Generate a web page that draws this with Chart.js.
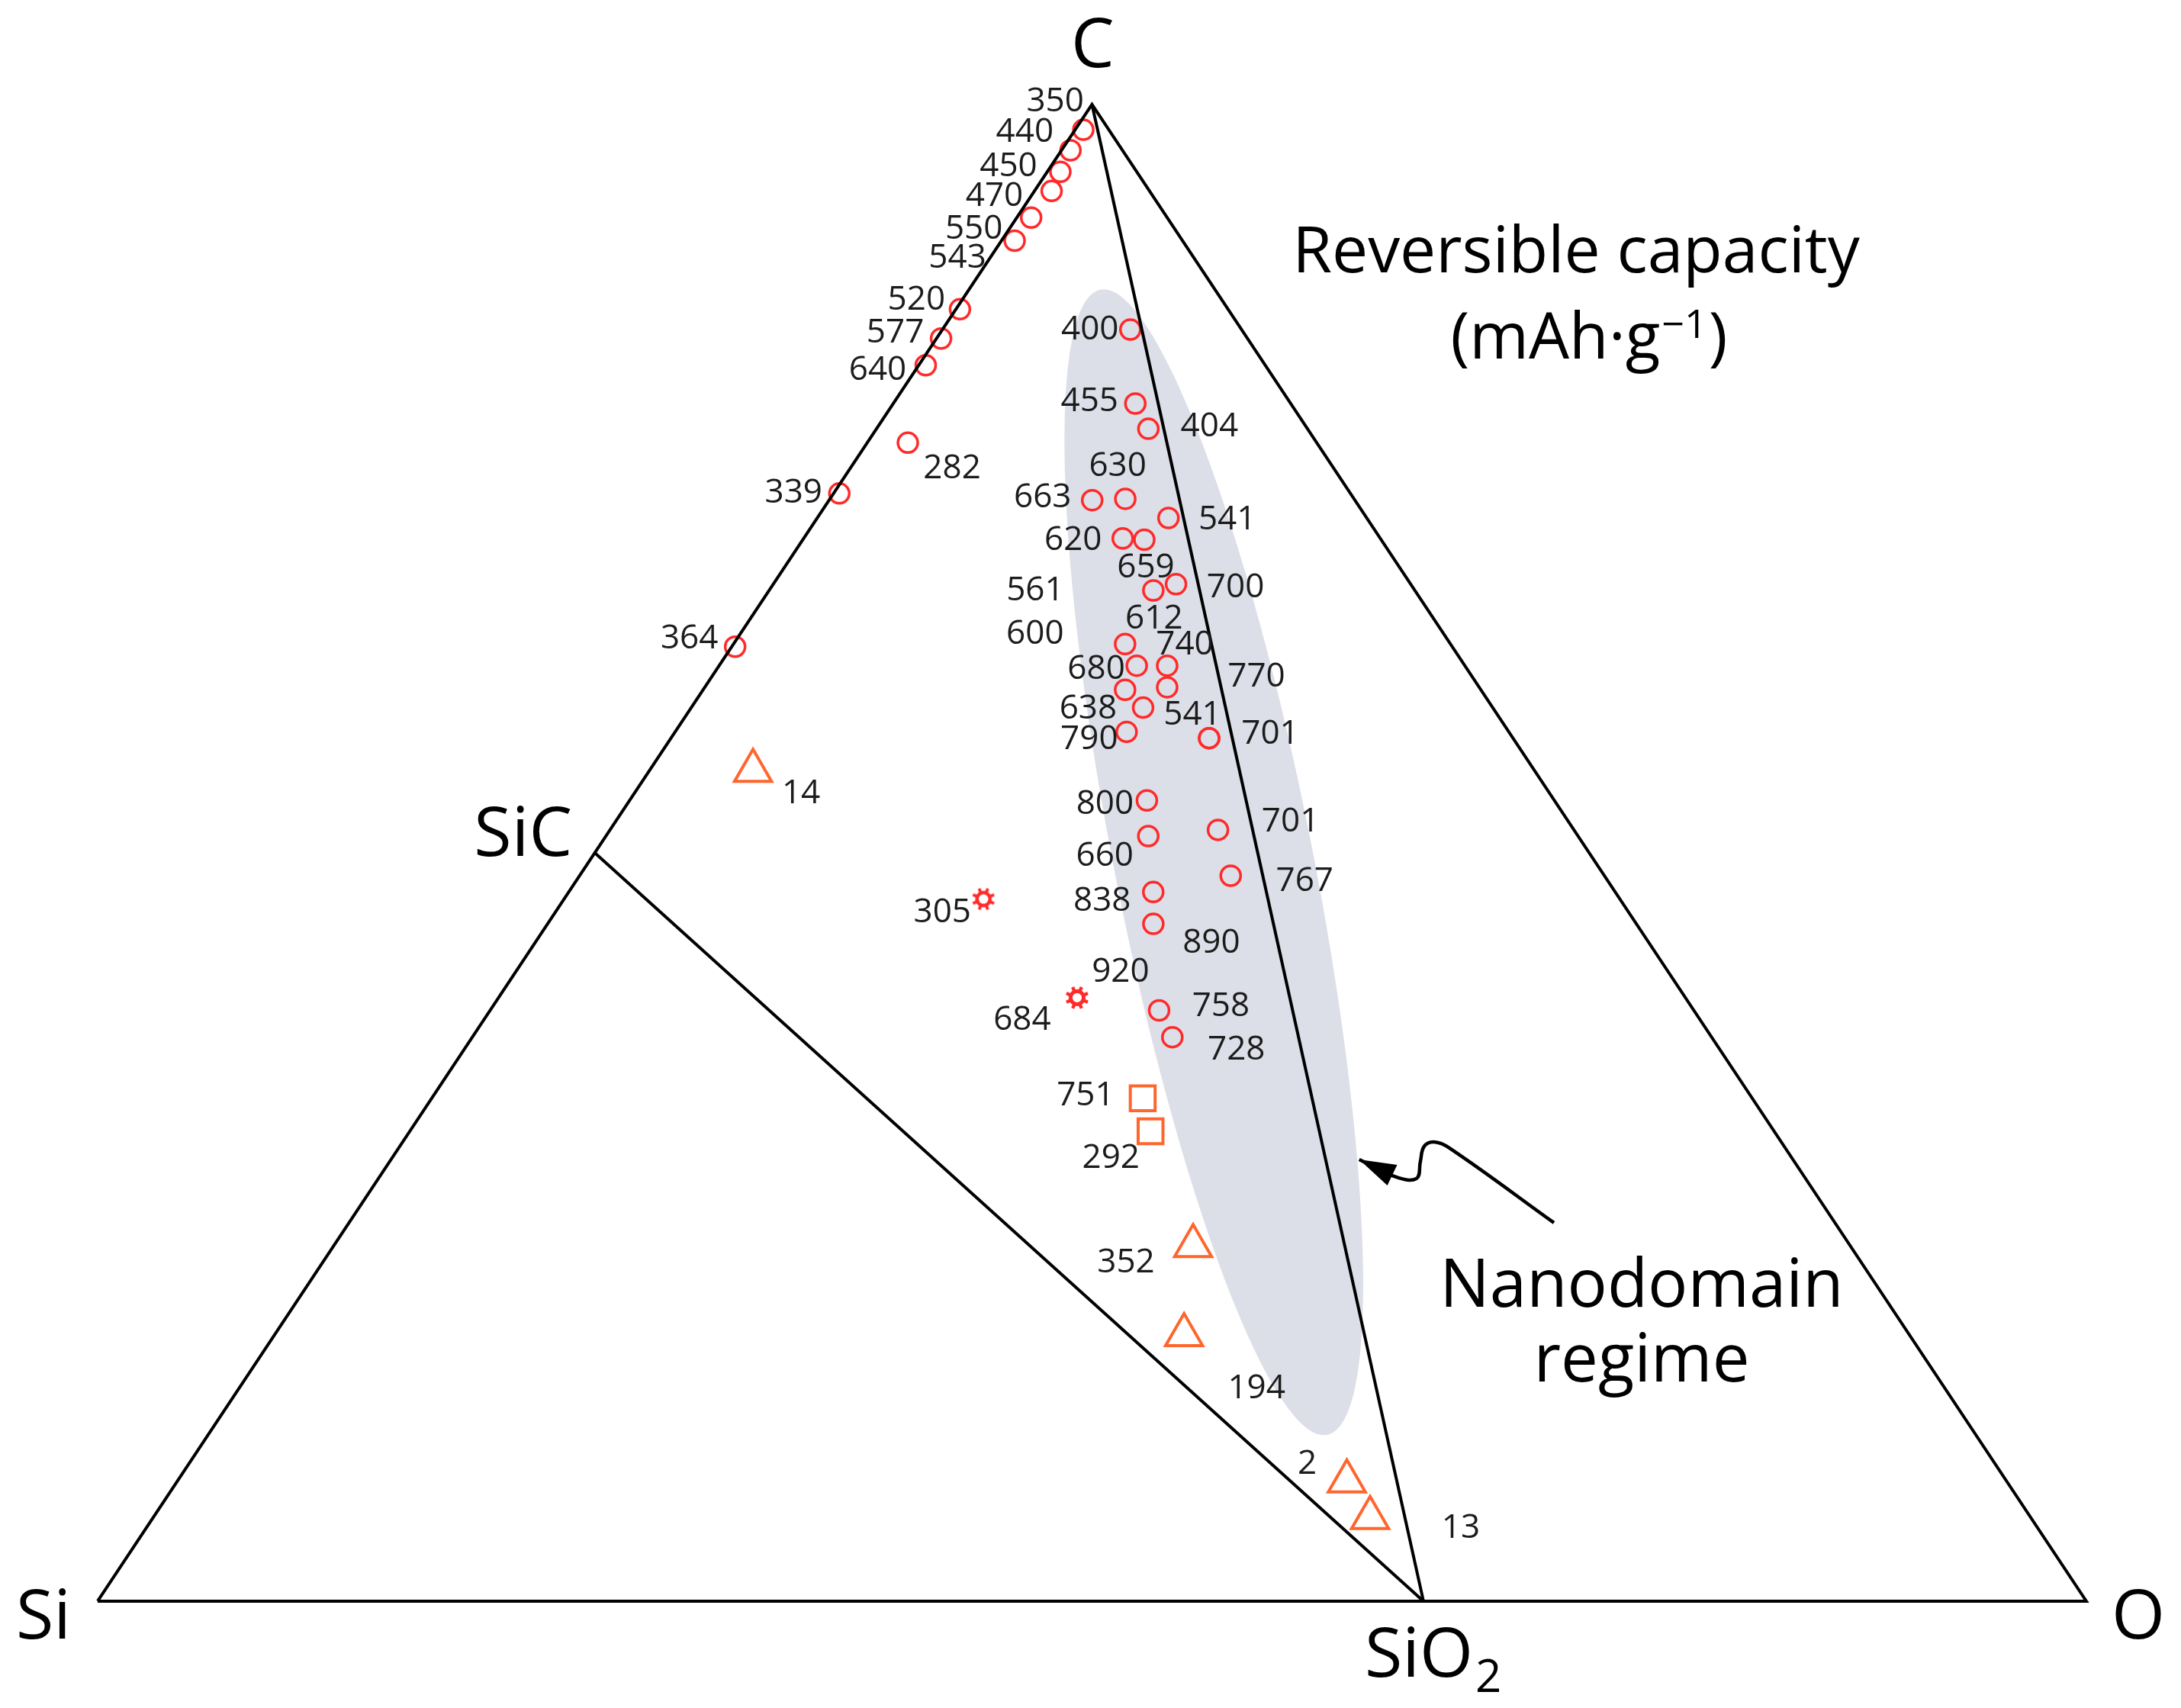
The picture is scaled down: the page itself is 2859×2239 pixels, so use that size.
<!DOCTYPE html>
<html>
<head>
<meta charset="utf-8">
<title>Si-C-O ternary: reversible capacity</title>
<script src="https://cdn.jsdelivr.net/npm/chart.js@4.4.1/dist/chart.umd.min.js"></script>
<style>
  html, body { margin: 0; padding: 0; background: #fff; }
  #wrap { width: 2859px; height: 2239px; position: relative; }
</style>
</head>
<body>
<div id="wrap"><canvas id="ternary"></canvas></div>
<script>
// compositions are atomic fractions of C and O (Si is the rest)

// corners and phases of the diagram
const vertexName = ["Si", "C", "O", "SiC", "SiO2"];
const vertexC = [0, 1, 0, 0.5, 0];
const vertexO = [0, 0, 1, 0, 2 / 3];

// red circles
const circleC = [0.9831, 0.9694, 0.9550, 0.9422, 0.9244, 0.9090, 0.8632, 0.8436, 0.8258,
    0.7740, 0.7401, 0.6377,
    0.8496, 0.8002, 0.7833, 0.7356, 0.7365, 0.7237, 0.7101, 0.7092, 0.6795, 0.6753,
    0.6395, 0.6250, 0.6250, 0.6089, 0.6106, 0.5970, 0.5808, 0.5766, 0.5766,
    0.5350, 0.5153, 0.5112, 0.4847, 0.4738, 0.4525, 0.3947, 0.3768];
const circleO = [0.0041, 0.0045, 0.0066, 0.0086, 0.0072, 0.0066, 0.0020, 0.0023, 0.0035,
    0.0204, 0.0029, 0.0017,
    0.0945, 0.1217, 0.1367, 0.1323, 0.1485, 0.1766, 0.1604, 0.1717, 0.2025, 0.1932,
    0.1969, 0.2100, 0.2253, 0.2122, 0.2325, 0.2272, 0.2270, 0.2706, 0.2706,
    0.2601, 0.3057, 0.2727, 0.3274, 0.2939, 0.3046, 0.3364, 0.3520];
const circleCap = ["350", "440", "450", "470", "550", "543", "520", "577", "640",
    "282", "339", "364",
    "400", "455", "404", "663", "630", "541", "620", "659", "700", "561",
    "612", "680", "740", "600", "770", "638", "790", "701", "541",
    "800", "701", "660", "767", "838", "890", "758", "728"];

// red spiky markers
const starC = [0.4691, 0.4032, 0.4032];
const starO = [0.2109, 0.2909, 0.2909];
const starCap = ["305", "684", "920"];

// orange squares
const squareC = [0.3360, 0.3139];
const squareO = [0.3575, 0.3725];
const squareCap = ["751", "292"];

// orange triangles
const triangleC = [0.5549, 0.2373, 0.1778, 0.0801, 0.0557];
const triangleO = [0.0521, 0.4322, 0.4574, 0.5881, 0.6120];
const triangleCap = ["14", "352", "194", "2", "13"];

// shaded nanodomain band (its two tips) and the curly pointer
const bandC = [0.8763, 0.1111];
const bandO = [0.0661, 0.5627];
const arrowC = [0.2951, 0.2834, 0.2824, 0.2936, 0.3038, 0.3068, 0.3028, 0.2528];
const arrowO = [0.4868, 0.5112, 0.5220, 0.5183, 0.5151, 0.5186, 0.5283, 0.6059];

// where each value label sits relative to its marker (px)
const circleShift = [[-37, -37], [-60, -24], [-68, -7], [-75, 7], [-75, 15], [-75, 23], [-57, -12], [-60, -7], [-63, 7],
    [58, 34], [-60, 0], [-60, -10],
    [-53, 0], [-60, -2], [80, -3], [-65, -3], [-10, -42], [77, 2], [-65, 3], [2, 37], [78, 5], [-155, 0],
    [38, -33], [-53, 5], [23, -27], [-118, -73], [117, -13], [-72, 2], [-49, 10], [80, -5], [-22, -30],
    [-55, 5], [95, -10], [-57, 27], [97, 8], [-67, 12], [76, 25], [81, -5], [84, 17]];
const starShift = [[-54, 18], [-72, 30], [57, -33]];
const squareShift = [[-75, -3], [-52, 35]];
const triangleShift = [[63, 30], [-88, 22], [95, 70], [-52, -22], [119, 14]];
// corner names: offset of text centre / baseline
const vertexShift = [[-71, 49], [1, -49], [68, 49], [-94, 4], [-6, 99]];

const FONT = "'Open Sans', 'Noto Sans', sans-serif";
const RED = "rgb(255, 42, 42)";
const ORANGE = "rgb(255, 102, 45)";

function toPoint(c, o) {
    return { x: o + c / 2, y: c };
}
function series(cArr, oArr) {
    return cArr.map((c, i) => toPoint(c, oArr[i]));
}
function vtx(name) {
    let i = vertexName.indexOf(name);
    return toPoint(vertexC[i], vertexO[i]);
}

// small gear-like marker used for 305 / 684
function makeGear() {
    let cv = document.createElement("canvas");
    cv.width = 36; cv.height = 36;
    let g = cv.getContext("2d");
    g.strokeStyle = RED;
    g.lineWidth = 4.5;
    g.beginPath();
    g.arc(18, 18, 8.5, 0, Math.PI * 2);
    g.stroke();
    g.lineWidth = 4;
    for (let k = 0; k < 8; k++) {
        let a = k * Math.PI / 4 + Math.PI / 8;
        g.beginPath();
        g.moveTo(18 + Math.cos(a) * 9, 18 + Math.sin(a) * 9);
        g.lineTo(18 + Math.cos(a) * 15, 18 + Math.sin(a) * 15);
        g.stroke();
    }
    return cv;
}

const bandPlugin = {
    id: "band",
    beforeDatasetsDraw(chart) {
        const { ctx, scales } = chart;
        let p = series(bandC, bandO).map(d => ({ x: scales.x.getPixelForValue(d.x), y: scales.y.getPixelForValue(d.y) }));
        let cx = (p[0].x + p[1].x) / 2, cy = (p[0].y + p[1].y) / 2;
        let half = Math.hypot(p[1].x - p[0].x, p[1].y - p[0].y) / 2;
        let ang = Math.atan2(p[1].y - p[0].y, p[1].x - p[0].x);
        ctx.save();
        ctx.fillStyle = "rgb(221, 223, 232)";
        ctx.beginPath();
        ctx.ellipse(cx, cy, half, 130, ang, 0, Math.PI * 2);
        ctx.fill();
        ctx.restore();
    }
};

const textPlugin = {
    id: "texts",
    afterDatasetsDraw(chart) {
        const { ctx, scales } = chart;
        const px = d => ({ x: scales.x.getPixelForValue(d.x), y: scales.y.getPixelForValue(d.y) });
        ctx.save();

        // value labels
        ctx.fillStyle = "#1c1c1c";
        ctx.font = "44px " + FONT;
        ctx.textAlign = "center";
        ctx.textBaseline = "middle";
        const groups = [
            [circleC, circleO, circleCap, circleShift],
            [starC, starO, starCap, starShift],
            [squareC, squareO, squareCap, squareShift],
            [triangleC, triangleO, triangleCap, triangleShift]
        ];
        groups.forEach(([cs, os, caps, shift]) => {
            cs.forEach((c, i) => {
                let p = px(toPoint(c, os[i]));
                ctx.fillText(caps[i], p.x + shift[i][0], p.y + shift[i][1]);
            });
        });

        // arrow head on the curly pointer
        let tip = px(toPoint(arrowC[0], arrowO[0]));
        let nxt = px(toPoint(arrowC[1], arrowO[1]));
        let a = Math.atan2(nxt.y - tip.y, nxt.x - tip.x);
        ctx.fillStyle = "#000";
        ctx.beginPath();
        ctx.moveTo(tip.x, tip.y);
        ctx.lineTo(tip.x + Math.cos(a) * 48 - Math.sin(a) * 15, tip.y + Math.sin(a) * 48 + Math.cos(a) * 15);
        ctx.lineTo(tip.x + Math.cos(a) * 48 + Math.sin(a) * 15, tip.y + Math.sin(a) * 48 - Math.cos(a) * 15);
        ctx.closePath();
        ctx.fill();

        // corner names
        ctx.fillStyle = "#000";
        ctx.textBaseline = "alphabetic";
        ctx.font = "90px " + FONT;
        vertexName.forEach((name, i) => {
            let p = px(toPoint(vertexC[i], vertexO[i]));
            let x = p.x + vertexShift[i][0], y = p.y + vertexShift[i][1];
            if (name == "SiO2") {
                let w = ctx.measureText("SiO").width;
                ctx.font = "60px " + FONT;
                let w2 = ctx.measureText("2").width;
                let left = x - (w + w2) / 2 + w2 / 2;
                ctx.textAlign = "left";
                ctx.fillText("2", left + w + 3, y + 20);
                ctx.font = "90px " + FONT;
                ctx.fillText("SiO", left, y);
                ctx.textAlign = "center";
            } else {
                ctx.fillText(name, x, y);
            }
        });

        // annotation texts
        ctx.font = "84px " + FONT;
        ctx.fillText("Reversible capacity", 2066, 357);
        let parts = ["(mAh\u00b7g", "\u22121", ")"];
        let w0 = ctx.measureText(parts[0]).width;
        let w2 = ctx.measureText(parts[2]).width;
        ctx.font = "52px " + FONT;
        let w1 = ctx.measureText(parts[1]).width;
        let start = 2083 - (w0 + w1 + w2 + 4) / 2;
        ctx.textAlign = "left";
        ctx.fillText(parts[1], start + w0 + 2, 443);
        ctx.font = "84px " + FONT;
        ctx.fillText(parts[0], start, 470);
        ctx.fillText(parts[2], start + w0 + w1 + 4, 470);
        ctx.textAlign = "center";
        ctx.font = "87px " + FONT;
        ctx.fillText("Nanodomain", 2152, 1713);
        ctx.fillText("regime", 2152, 1811);
        ctx.restore();
    }
};

const frameData = ["Si", "C", "O", "Si"].map(vtx);
const tieData1 = ["C", "SiO2"].map(vtx);
const tieData2 = ["SiC", "SiO2"].map(vtx);

const lineStyle = {
    showLine: true, borderColor: "#000", borderWidth: 4, pointRadius: 0,
    fill: false, borderJoinStyle: "miter", borderCapStyle: "butt", clip: false
};

new Chart(document.getElementById("ternary"), {
    type: "scatter",
    data: {
        datasets: [
            Object.assign({ label: "frame", data: frameData }, lineStyle),
            Object.assign({ label: "C-SiO2", data: tieData1 }, lineStyle),
            Object.assign({ label: "SiC-SiO2", data: tieData2 }, lineStyle),
            {
                label: "pointer", data: series(arrowC, arrowO), showLine: true, tension: 0.4,
                borderColor: "#000", borderWidth: 4.5, pointRadius: 0, clip: false
            },
            {
                label: "circles", data: series(circleC, circleO), pointStyle: "circle",
                pointRadius: 13, borderWidth: 3.5, borderColor: RED, backgroundColor: "rgba(0,0,0,0)", clip: false
            },
            {
                label: "gears", data: series(starC, starO), pointStyle: makeGear(), clip: false
            },
            {
                label: "squares", data: series(squareC, squareO), pointStyle: "rect",
                pointRadius: 23, borderWidth: 4, borderColor: ORANGE, backgroundColor: "rgba(0,0,0,0)", clip: false
            },
            {
                label: "triangles", data: series(triangleC, triangleO), pointStyle: "triangle",
                pointRadius: 28, borderWidth: 4, borderColor: ORANGE, backgroundColor: "rgba(0,0,0,0)", clip: false
            }
        ]
    },
    options: {
        responsive: true,
        maintainAspectRatio: false,
        animation: false,
        events: [],
        layout: { padding: 0, autoPadding: false },
        plugins: { legend: { display: false }, tooltip: { enabled: false } },
        scales: {
            x: { type: "linear", display: false, min: -0.0491, max: 1.0476 },
            y: { type: "linear", display: false, min: -0.0714, max: 1.0698 }
        }
    },
    plugins: [bandPlugin, textPlugin]
});
</script>
</body>
</html>
